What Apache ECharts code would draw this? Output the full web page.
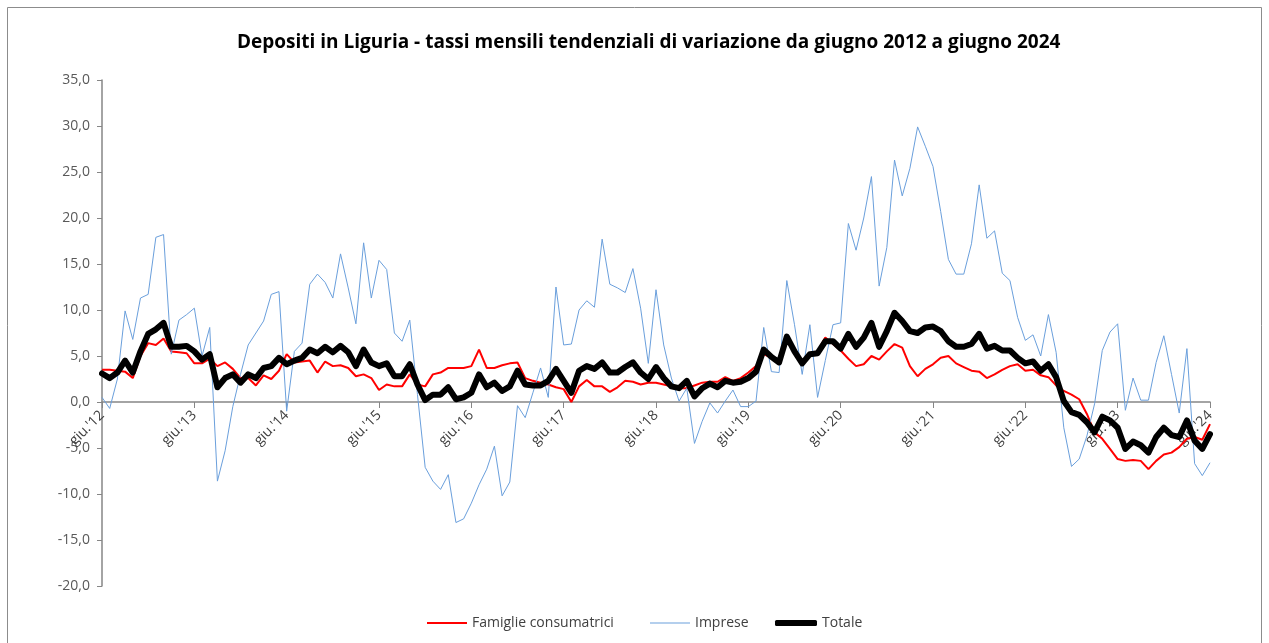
<!DOCTYPE html>
<html>
<head>
<meta charset="utf-8">
<script src="https://cdn.jsdelivr.net/npm/echarts@6/dist/echarts.min.js"></script>
<style>
    html, body { margin: 0; padding: 0; background: #fff; }
    #chart { width: 1269px; height: 643px; }
</style>
</head>
<body>
<div id="chart"></div>
<script>
// dati: giugno 2012 - giugno 2024, valori mensili
const firstYear = 2012;
const firstMonth = 5; // giugno
const monthNames = ['gen', 'feb', 'mar', 'apr', 'mag', 'giu', 'lug', 'ago', 'set', 'ott', 'nov', 'dic'];

const famiglie = [
    3.5, 3.5, 3.4, 3.3, 2.6, 5.0, 6.4, 6.2, 6.9, 5.5, 5.4, 5.3,
    4.2, 4.2, 4.7, 3.9, 4.3, 3.6, 2.6, 2.6, 1.8, 2.9, 2.5, 3.4,
    5.2, 4.3, 4.4, 4.5, 3.2, 4.4, 3.9, 4.0, 3.7, 2.8, 3.0, 2.6,
    1.3, 1.9, 1.7, 1.7, 3.0, 1.9, 1.7, 3.0, 3.2, 3.7, 3.7, 3.7,
    3.9, 5.7, 3.7, 3.7, 4.0, 4.2, 4.3, 2.6, 2.3, 2.1, 1.9, 1.6,
    1.4, 0.0, 1.7, 2.4, 1.7, 1.7, 1.1, 1.6, 2.3, 2.2, 1.9, 2.1,
    2.1, 1.9, 1.7, 1.5, 1.5, 1.8, 2.1, 2.2, 2.2, 2.7, 2.3, 2.6,
    3.2, 3.9, 5.2, 4.8, 4.4, 6.6, 5.5, 4.2, 5.3, 5.5, 7.0, 6.3,
    5.6, 4.7, 3.9, 4.1, 5.0, 4.6, 5.5, 6.3, 5.9, 3.9, 2.8, 3.6,
    4.1, 4.8, 5.0, 4.2, 3.8, 3.4, 3.3, 2.6, 3.0, 3.5, 3.9, 4.1,
    3.4, 3.5, 2.9, 2.7, 1.8, 1.2, 0.8, 0.3, -1.3, -3.3, -4.0, -5.1,
    -6.2, -6.4, -6.3, -6.4, -7.3, -6.4, -5.7, -5.5, -4.9, -4.0, -3.8, -4.1,
    -2.4
];

const imprese = [
    0.5, -0.7, 2.5, 9.9, 6.8, 11.3, 11.7, 17.9, 18.2, 5.2, 8.9, 9.5,
    10.2, 5.0, 8.1, -8.6, -5.3, -0.5, 3.0, 6.2, 7.5, 8.8, 11.7, 12.0,
    -1.0, 5.5, 6.4, 12.8, 13.9, 13.0, 11.3, 16.1, 12.4, 8.5, 17.3, 11.3,
    15.4, 14.4, 7.5, 6.6, 8.9, 0.8, -7.1, -8.6, -9.5, -7.9, -13.1, -12.7,
    -11.0, -9.0, -7.3, -4.8, -10.2, -8.7, -0.4, -1.7, 1.0, 3.7, 0.5, 12.5,
    6.2, 6.3, 10.0, 11.0, 10.3, 17.7, 12.8, 12.4, 11.9, 14.5, 10.2, 4.2,
    12.2, 6.2, 2.6, 0.1, 1.5, -4.5, -2.1, -0.1, -1.2, 0.1, 1.3, -0.5,
    -0.5, 0.1, 8.1, 3.3, 3.2, 13.2, 8.4, 3.0, 8.4, 0.5, 4.5, 8.4,
    8.6, 19.4, 16.5, 20.0, 24.5, 12.6, 16.8, 26.3, 22.4, 25.4, 29.9, 27.8,
    25.6, 20.7, 15.5, 13.9, 13.9, 17.2, 23.6, 17.8, 18.6, 14.0, 13.2, 9.2,
    6.7, 7.3, 5.0, 9.5, 5.4, -2.8, -7.0, -6.2, -3.7, -0.2, 5.6, 7.6,
    8.5, -0.9, 2.6, 0.2, 0.2, 4.3, 7.2, 3.0, -1.2, 5.8, -6.7, -8.0,
    -6.6
];

const totale = [
    3.1, 2.6, 3.2, 4.5, 3.2, 5.5, 7.4, 7.9, 8.6, 6.0, 6.0, 6.1,
    5.5, 4.6, 5.2, 1.6, 2.6, 3.0, 2.1, 3.0, 2.6, 3.7, 3.9, 4.8,
    4.1, 4.5, 4.8, 5.7, 5.3, 6.0, 5.4, 6.1, 5.4, 3.9, 5.7, 4.3,
    3.9, 4.2, 2.8, 2.8, 4.1, 1.9, 0.2, 0.8, 0.8, 1.6, 0.3, 0.5,
    1.0, 3.0, 1.6, 2.1, 1.2, 1.7, 3.4, 1.9, 1.8, 1.8, 2.3, 3.6,
    2.3, 1.0, 3.4, 3.9, 3.6, 4.3, 3.2, 3.2, 3.8, 4.3, 3.2, 2.5,
    3.8, 2.6, 1.7, 1.5, 2.3, 0.6, 1.5, 2.0, 1.6, 2.3, 2.1, 2.2,
    2.6, 3.3, 5.7, 4.9, 4.3, 7.1, 5.5, 4.2, 5.2, 5.3, 6.6, 6.6,
    5.8, 7.4, 6.0, 7.0, 8.6, 6.0, 7.7, 9.7, 8.8, 7.7, 7.5, 8.1,
    8.2, 7.7, 6.6, 6.0, 6.0, 6.3, 7.4, 5.8, 6.1, 5.6, 5.6, 4.8,
    4.2, 4.4, 3.4, 4.1, 2.7, 0.1, -1.1, -1.4, -2.2, -3.3, -1.6, -2.0,
    -2.8, -5.1, -4.3, -4.7, -5.5, -3.8, -2.8, -3.6, -3.8, -2.0, -4.2, -5.1,
    -3.5
];

// etichette mese: "giu.'12"
const mesi = [];
for (let i = 0; i < totale.length; i++) {
    let m = (firstMonth + i) % 12;
    let y = firstYear + Math.floor((firstMonth + i) / 12);
    mesi.push(monthNames[m] + ".'" + String(y).slice(2));
}

const font = "'Open Sans', 'Liberation Sans', sans-serif";

// area del grafico
const gridTop = 80, gridBottom = 57, yMin = -20, yMax = 35;
const plotH = 643 - gridTop - gridBottom;
// asse x spostato sullo zero (etichette comprese)
const zeroOffset = -plotH * (0 - yMin) / (yMax - yMin);

let myChart = echarts.init(document.getElementById('chart'));

let option = {
    backgroundColor: '#ffffff',
    animation: false,
    textStyle: { fontFamily: font },
    title: {
        text: 'Depositi in Liguria - tassi mensili tendenziali di variazione da giugno 2012 a giugno 2024',
        left: 232,
        top: 28,
        textStyle: {
            fontFamily: font,
            fontSize: 19,
            fontWeight: 'bold',
            color: '#000'
        }
    },
    graphic: [{
        type: 'rect',
        shape: { x: 7.5, y: 7.5, width: 1254, height: 640 },
        style: { fill: 'none', stroke: '#8c8c8c', lineWidth: 1 },
        silent: true
    }],
    legend: [{
        data: ['Famiglie consumatrici'],
        left: 422, top: 611,
        icon: 'rect', itemWidth: 40, itemHeight: 2,
        textStyle: { fontSize: 14, color: '#404040' }
    }, {
        data: ['Imprese'],
        left: 645, top: 611,
        icon: 'rect', itemWidth: 40, itemHeight: 1,
        textStyle: { fontSize: 14, color: '#404040' }
    }, {
        data: ['Totale'],
        left: 770, top: 611,
        icon: 'roundRect', itemWidth: 42, itemHeight: 6,
        textStyle: { fontSize: 14, color: '#404040' }
    }],
    grid: {
        left: 102,
        right: 59,
        top: gridTop,
        bottom: gridBottom
    },
    xAxis: {
        type: 'category',
        data: mesi,
        boundaryGap: false,
        offset: zeroOffset,
        axisLine: { onZero: false, lineStyle: { color: '#868686', width: 1.5 } },
        axisTick: { interval: 11, length: 6, lineStyle: { color: '#868686' } },
        axisLabel: {
            interval: 11,
            rotate: 45,
            fontSize: 14,
            color: '#404040',
            margin: 11
        },
        splitLine: { show: false }
    },
    yAxis: {
        type: 'value',
        min: yMin,
        max: yMax,
        interval: 5,
        axisLine: { show: true, lineStyle: { color: '#868686', width: 1.5 } },
        axisTick: { show: true, length: 5, lineStyle: { color: '#868686' } },
        axisLabel: {
            fontSize: 14,
            color: '#595959',
            margin: 12,
            formatter: (v) => v.toFixed(1).replace('.', ',')
        },
        splitLine: { show: false }
    },
    series: [{
        name: 'Famiglie consumatrici',
        type: 'line',
        data: famiglie,
        symbol: 'none',
        color: '#ff0000',
        lineStyle: { color: '#ff0000', width: 2 }
    }, {
        name: 'Imprese',
        type: 'line',
        data: imprese,
        symbol: 'none',
        color: '#6a9fdc',
        lineStyle: { color: '#6a9fdc', width: 1 }
    }, {
        name: 'Totale',
        type: 'line',
        data: totale,
        symbol: 'none',
        color: '#000000',
        lineStyle: { color: '#000000', width: 6, join: 'round', cap: 'round' }
    }]
};

myChart.setOption(option);
</script>
</body>
</html>
